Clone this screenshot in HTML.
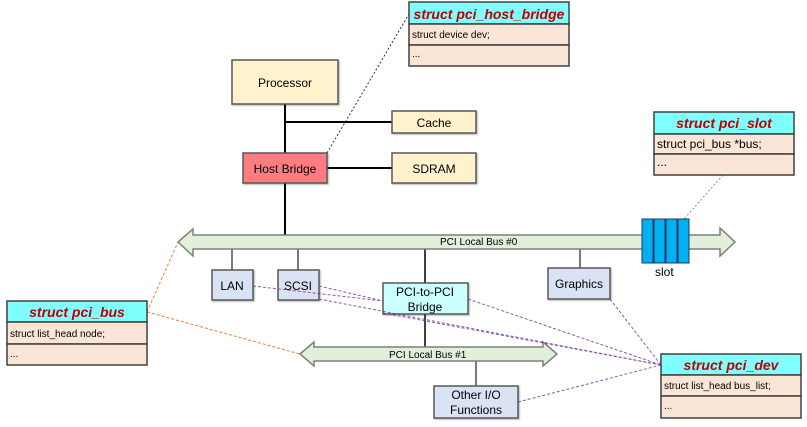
<!DOCTYPE html>
<html><head><meta charset="utf-8"><style>
html,body{margin:0;padding:0;background:#fff;}
svg{display:block;font-family:"Liberation Sans",sans-serif;}
</style></head><body>
<svg width="807" height="427" viewBox="0 0 807 427" xmlns="http://www.w3.org/2000/svg">
<defs><filter id="s" x="-10%" y="-10%" width="130%" height="140%"><feDropShadow dx="1" dy="1" stdDeviation="0.8" flood-color="#000" flood-opacity="0.3"/></filter></defs>
<!-- lines -->
<g stroke="#000" stroke-width="2" fill="none">
<line x1="285" y1="104" x2="285" y2="235"/>
<line x1="285" y1="122" x2="392" y2="122"/>
<line x1="327" y1="168" x2="392" y2="168"/>
<line x1="425" y1="249" x2="425" y2="348" stroke-width="1.5"/>
</g>
<g stroke="#222" stroke-width="1.2">
<line x1="232" y1="249" x2="232" y2="270"/>
<line x1="298" y1="249" x2="298" y2="270"/>
<line x1="580" y1="249" x2="580" y2="268"/>
<line x1="476" y1="361" x2="476" y2="386"/>
</g>
<!-- bus 0 -->
<polygon points="178,242 193,229 193,235 720,235 720,228 735,242 720,256 720,249 193,249 193,256" fill="#e2efda" stroke="#7f7f7f" stroke-width="1.5"/>
<text x="440" y="245" font-size="10" fill="#000">PCI Local Bus #0</text>
<!-- bus 1 -->
<polygon points="300,354 314,342 314,347 543,347 543,342 557,354 543,366 543,361 314,361 314,366" fill="#e2efda" stroke="#7f7f7f" stroke-width="1.5"/>
<text x="389" y="358" font-size="10" fill="#000">PCI Local Bus #1</text>
<!-- slot -->
<g fill="#00b0f0" stroke="#1f3864" stroke-width="1">
<rect x="642" y="219" width="11" height="44"/><rect x="654" y="219" width="11" height="44"/><rect x="666" y="219" width="11" height="44"/><rect x="678" y="219" width="11" height="44"/>
</g>
<text x="655" y="276" font-size="12">slot</text>
<!-- boxes -->
<g stroke="#595959" stroke-width="1.5" filter="url(#s)">
<rect x="232" y="60" width="106" height="44" fill="#fff2cc"/>
<rect x="392" y="111" width="84" height="22" fill="#fff2cc"/>
<rect x="392" y="153" width="84" height="30" fill="#fff2cc"/>
<rect x="243" y="153" width="84" height="30" fill="#ff7c80"/>
<rect x="212" y="270" width="41" height="30" fill="#dae3f3"/>
<rect x="278" y="270" width="41" height="30" fill="#dae3f3"/>
<rect x="383" y="283" width="85" height="31" fill="#ccffff"/>
<rect x="548" y="268" width="62" height="31" fill="#dae3f3"/>
<rect x="434" y="386" width="84" height="32" fill="#dae3f3"/>
</g>
<g font-size="12" text-anchor="middle" fill="#000">
<text x="285" y="87">Processor</text>
<text x="434" y="127">Cache</text>
<text x="434" y="173">SDRAM</text>
<text x="285" y="173">Host Bridge</text>
<text x="232" y="290">LAN</text>
<text x="298" y="290">SCSI</text>
<text x="425" y="296">PCI-to-PCI</text>
<text x="425" y="311">Bridge</text>
<text x="579" y="288">Graphics</text>
<text x="476" y="399">Other I/O</text>
<text x="476" y="414">Functions</text>
</g>
<!-- dashed connectors -->
<line x1="327" y1="153" x2="409" y2="14" stroke="#333" stroke-width="1" stroke-dasharray="2,2"/>
<line x1="723" y1="175" x2="684" y2="219" stroke="#5b9bd5" stroke-width="1" stroke-dasharray="2,2"/>
<g stroke="#ed7d31" stroke-width="1" stroke-dasharray="3,2">
<line x1="147" y1="312" x2="178" y2="242"/>
<line x1="147" y1="312" x2="300" y2="354"/>
</g>
<g stroke="#7030a0" stroke-width="1" stroke-dasharray="3,2" opacity="0.8">
<line x1="253" y1="286" x2="383" y2="301"/>
<line x1="319" y1="286" x2="383" y2="301"/>
<line x1="319" y1="299" x2="661" y2="365"/>
<line x1="383" y1="313" x2="661" y2="365"/>
<line x1="468" y1="299" x2="661" y2="365"/>
<line x1="610" y1="299" x2="661" y2="365"/>
<line x1="518" y1="402" x2="661" y2="365"/>
</g>
<!-- structs -->
<g stroke="#404040" stroke-width="1.5">
<rect x="409" y="2" width="160" height="22" fill="#80ffff"/>
<rect x="409" y="24" width="160" height="21" fill="#fbe5d6"/>
<rect x="409" y="45" width="160" height="21" fill="#fbe5d6"/>
<rect x="654" y="112" width="140" height="22" fill="#80ffff"/>
<rect x="654" y="134" width="140" height="20" fill="#fbe5d6"/>
<rect x="654" y="154" width="140" height="21" fill="#fbe5d6"/>
<rect x="7" y="301" width="140" height="21" fill="#80ffff"/>
<rect x="7" y="322" width="140" height="22" fill="#fbe5d6"/>
<rect x="7" y="344" width="140" height="21" fill="#fbe5d6"/>
<rect x="661" y="354" width="140" height="21" fill="#80ffff"/>
<rect x="661" y="375" width="140" height="21" fill="#fbe5d6"/>
<rect x="661" y="396" width="140" height="22" fill="#fbe5d6"/>
</g>
<g font-size="14" font-weight="bold" font-style="italic" fill="#c00000" text-anchor="middle">
<text x="489" y="19">struct pci_host_bridge</text>
<text x="724" y="128">struct pci_slot</text>
<text x="77" y="317">struct pci_bus</text>
<text x="731" y="370">struct pci_dev</text>
</g>
<g font-size="10" fill="#000">
<text x="412" y="38">struct device dev;</text>
<text x="412" y="57">...</text>
<text x="657" y="148" font-size="12">struct pci_bus *bus;</text>
<text x="657" y="166" font-size="12">...</text>
<text x="10" y="337">struct list_head node;</text>
<text x="10" y="357">...</text>
<text x="664" y="389">struct list_head bus_list;</text>
<text x="664" y="409">...</text>
</g>
</svg>
</body></html>
